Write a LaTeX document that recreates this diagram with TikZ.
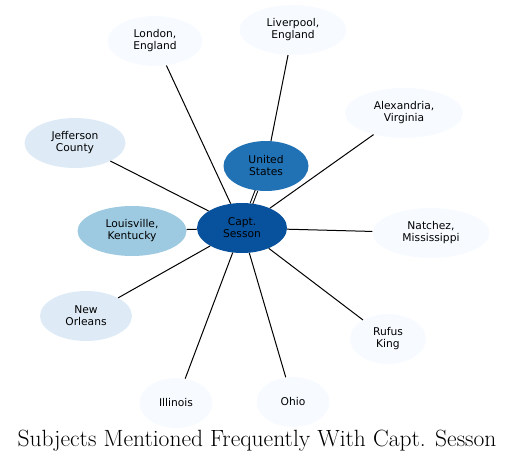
\documentclass[tikz,border=0pt]{standalone}
\usepackage{fontspec}
\newfontfamily\labelfont{DejaVu Sans}
\usetikzlibrary{shapes,positioning}
\definecolor{clrCenter}{HTML}{08519C}
\definecolor{clrStrong}{HTML}{2171B5}
\definecolor{clrMid}{HTML}{9ECAE1}
\definecolor{clrLight}{HTML}{DEEBF7}
\definecolor{clrPale}{HTML}{F7FBFF}
\tikzstyle{subject0}=[ellipse, inner sep=0pt, minimum height=50pt, align=center,
text=black, font=\labelfont\fontsize{10.7}{12}\selectfont]
\tikzstyle{center}=[subject0, fill=clrCenter]
\tikzstyle{strong}=[subject0, fill=clrStrong]
\tikzstyle{mid}=[subject0, fill=clrMid]
\tikzstyle{light}=[subject0, fill=clrLight]
\tikzstyle{pale}=[subject0, fill=clrPale]
\tikzstyle{link}=[line width=1pt]
\begin{document}
\begin{tikzpicture}[x=1pt, y=-1pt]
		\useasboundingbox (0,0) rectangle (515,463) ;

		\node[center, minimum width=90pt] (A) at (242,228) {Capt.\\Sesson} ;

		\node[strong, minimum width=85pt] (B) at (266,166) {United\\States} ;
		\draw[link, double, double distance=1.6pt] (A) -- (B) ;

		\node[pale, minimum width=95pt] (C) at (155,41) {London,\\England} ;
		\draw[link] (A) -- (C) ;

		\node[pale, minimum width=107pt] (D) at (293,30) {Liverpool,\\England} ;
		\draw[link] (B) -- (D) ;

		\node[pale, minimum width=118pt] (E) at (404,113) {Alexandria,\\Virginia} ;
		\draw[link] (A) -- (E) ;

		\node[light, minimum width=101pt] (F) at (75,143) {Jefferson\\County} ;
		\draw[link] (A) -- (F) ;

		\node[mid, minimum width=109pt] (G) at (132,231) {Louisville,\\Kentucky} ;
		\draw[link] (A) -- (G) ;

		\node[pale, minimum width=117pt] (H) at (431,233) {Natchez,\\Mississippi} ;
		\draw[link] (A) -- (H) ;

		\node[light, minimum width=92pt] (I) at (86,316) {New\\Orleans} ;
		\draw[link] (A) -- (I) ;

		\node[pale, minimum width=76pt] (J) at (388,339) {Rufus\\King} ;
		\draw[link] (A) -- (J) ;

		\node[pale, minimum width=73pt] (K) at (176,403) {Illinois} ;
		\draw[link] (A) -- (K) ;

		\node[pale, minimum width=73pt] (L) at (293,402) {Ohio} ;
		\draw[link] (A) -- (L) ;

		% title
		\node[font=\fontsize{23.5}{28}\selectfont] (T) at (257,441) {Subjects Mentioned Frequently With Capt. Sesson} ;
	\end{tikzpicture}
\end{document}
